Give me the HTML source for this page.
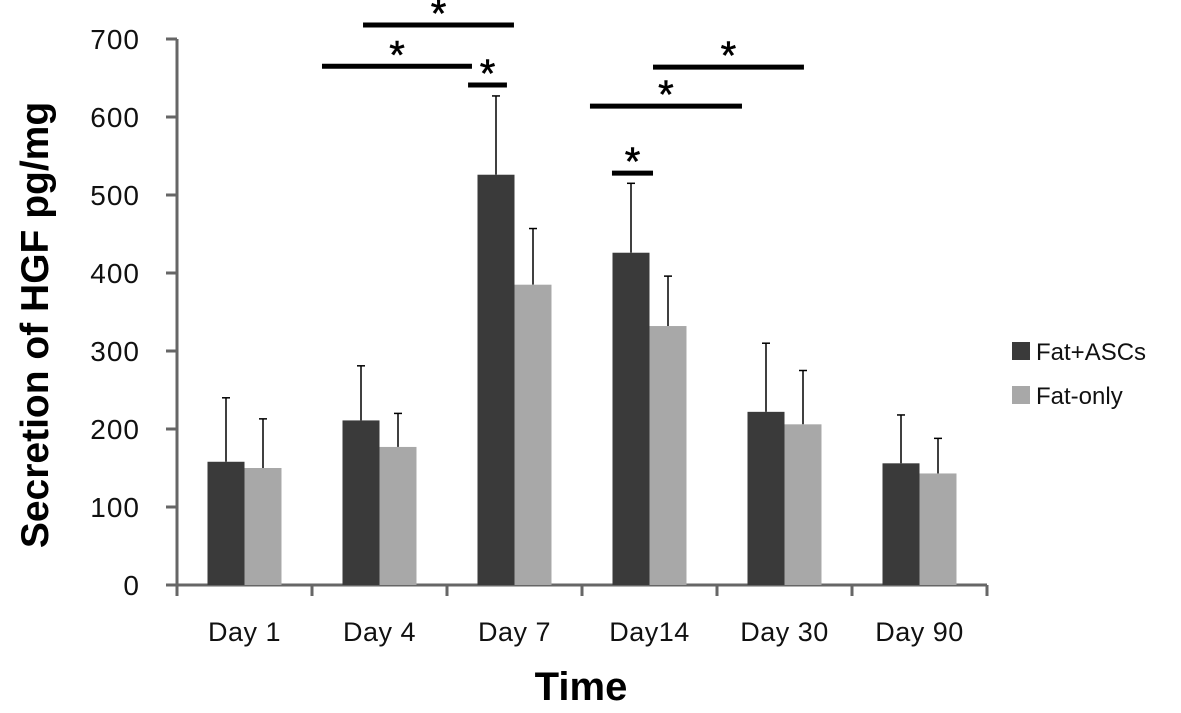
<!DOCTYPE html>
<html><head><meta charset="utf-8"><style>
body{margin:0;background:#fff}
svg{font-family:"Liberation Sans","DejaVu Sans",sans-serif}
</style></head><body>
<svg id="chart" width="1181" height="708">
<g id="g"></g>
</svg>
<script>
const categories=["Day 1","Day 4","Day 7","Day14","Day 30","Day 90"];
const fatAscs=[158,211,526,426,222,156];
const fatAscsErr=[240,281,627,515,310,218];
const fatOnly=[150,177,385,332,206,143];
const fatOnlyErr=[213,220,457,396,275,188];
const yTicks=[0,100,200,300,400,500,600,700];
const sigX0=[1.378,1.074,2.156,3.059,3.526,3.222];
const sigX1=[2.496,2.185,2.444,4.185,4.644,3.526];
const sigVal=[718,665,641,614,664,528];

const NS="http://www.w3.org/2000/svg";
const g=document.getElementById('g');
const x0=177,step=135,y0=585,pxPer=(585-39)/700;
const yS=v=>y0-v*pxPer;
const xS=i=>x0+step*i;
function el(t,a,txt){const e=document.createElementNS(NS,t);for(const k in a)e.setAttribute(k,a[k]);if(txt!==undefined)e.textContent=txt;g.appendChild(e);return e;}

let a=el('line',{x1:x0,y1:yS(700),x2:x0,y2:y0+10,stroke:'#666',"stroke-width":3});

a=el('line',{x1:x0-11,y1:y0,x2:xS(6),y2:y0,stroke:'#666',"stroke-width":3});

yTicks.forEach(v=>{
  let t=el('line',{x1:x0-11,y1:yS(v),x2:x0,y2:yS(v),stroke:'#666',"stroke-width":3});
  
  let l=el('text',{x:140,y:yS(v)+10,"font-size":28,"letter-spacing":1,"text-anchor":"end",fill:'#111'},v);
  
});
for(let i=0;i<=6;i++){
  let t=el('line',{x1:xS(i),y1:y0,x2:xS(i),y2:y0+11,stroke:'#666',"stroke-width":3});
  
}
const bw=37;
categories.forEach((c,i)=>{
  const cx=xS(i)+step/2;
  let l=el('text',{x:cx,y:641,"font-size":27,"letter-spacing":0.5,"text-anchor":"middle",fill:'#111'},c);
  
  [[fatAscs,fatAscsErr,'#3a3a3a',cx-bw,'bar-fat-ascs'],[fatOnly,fatOnlyErr,'#a8a8a8',cx,'bar-fat-only']].forEach(([v,e,col,bx,nm])=>{
    const ex=bx+bw/2;
    let w=el('line',{x1:ex,y1:yS(e[i]),x2:ex,y2:yS(v[i]),stroke:'#000',"stroke-width":1.5});
    
    let cap=el('line',{x1:ex-4,y1:yS(e[i]),x2:ex+4,y2:yS(e[i]),stroke:'#000',"stroke-width":1.5});
    
    let r=el('rect',{x:bx,y:yS(v[i]),width:bw,height:yS(0)-yS(v[i]),fill:col});
    
  });
});
sigVal.forEach((v,i)=>{
  const a1=x0+step*sigX0[i],a2=x0+step*sigX1[i];
  let l=el('line',{x1:a1,y1:yS(v),x2:a2,y2:yS(v),stroke:'#000',"stroke-width":5});
  
  let s=el('text',{x:(a1+a2)/2,y:yS(v)+2,"font-size":40,"text-anchor":"middle",fill:'#000',stroke:'#000',"stroke-width":0.6},'*');
  
});
[['#3a3a3a','Fat+ASCs',352],['#a8a8a8','Fat-only',396]].forEach(([c,t,y])=>{
  let r=el('rect',{x:1012,y:y-10,width:18,height:18,fill:c});
  
  let l=el('text',{x:1036,y:y+8,"font-size":24,fill:'#111'},t);
  
});
let xt=el('text',{x:581,y:700,"font-size":40,"font-weight":"bold","text-anchor":"middle",fill:'#000'},'Time');

let yt=el('text',{x:0,y:0,"font-size":39,"font-weight":"bold","text-anchor":"middle",fill:'#000',transform:'translate(48,325) rotate(-90)'},'Secretion of HGF pg/mg');

</script>
</body></html>
